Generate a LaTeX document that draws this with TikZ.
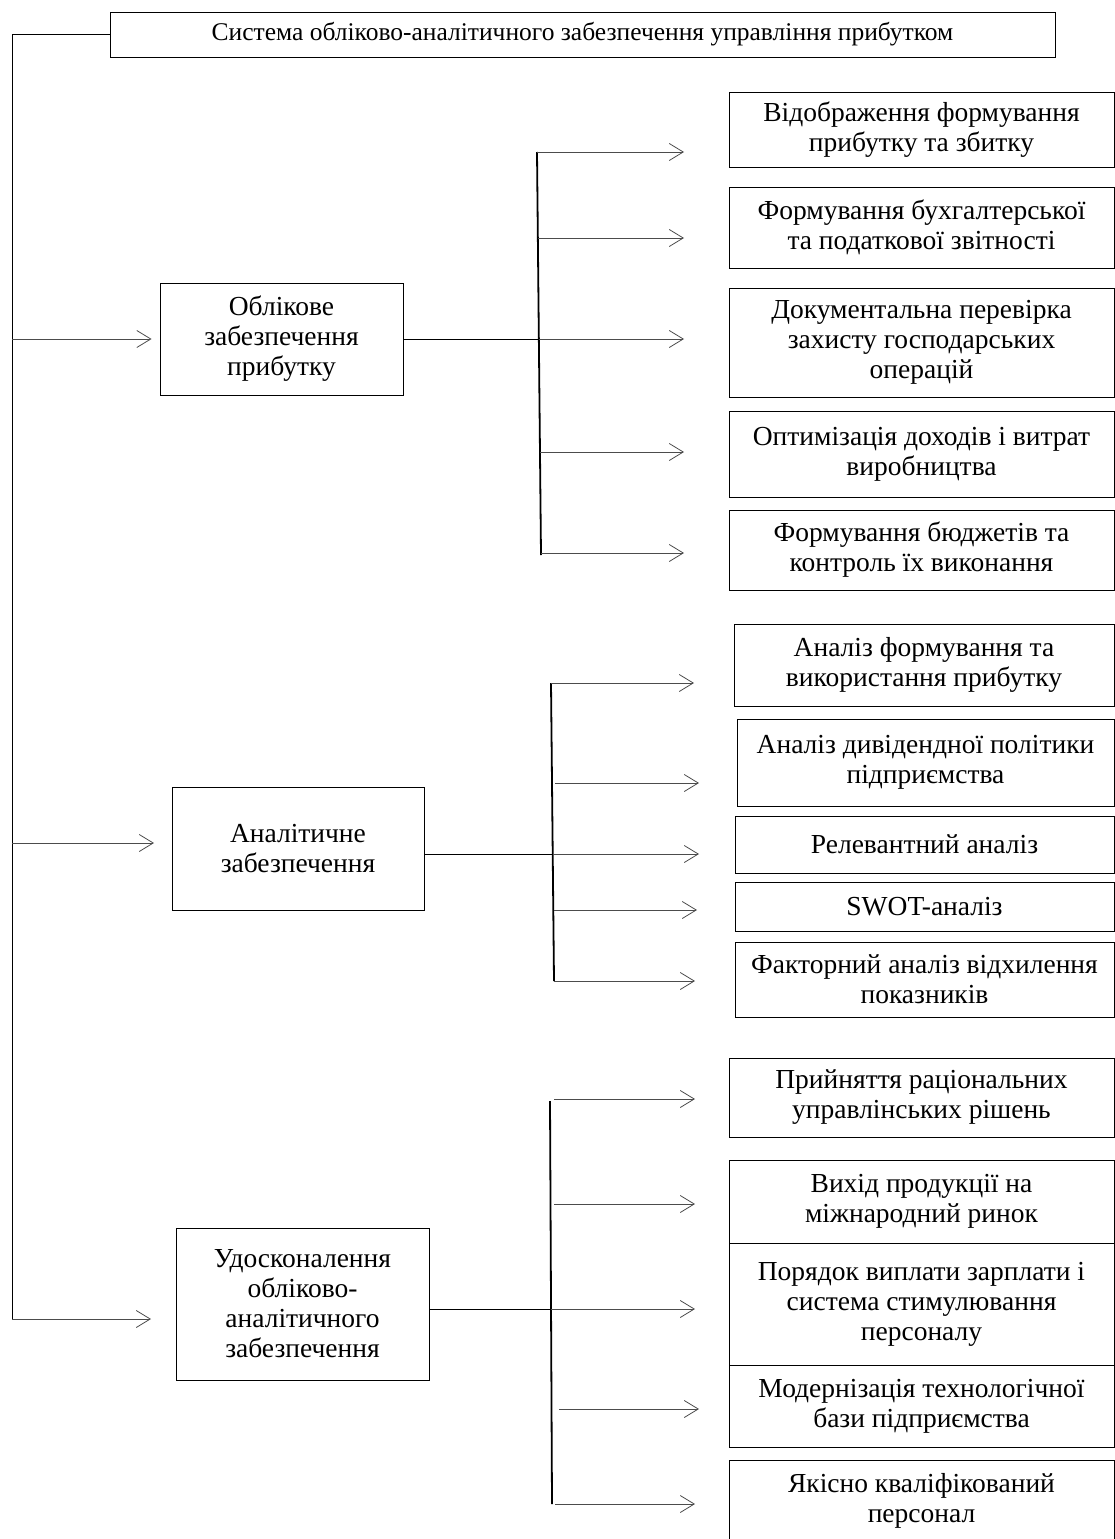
\documentclass[tikz,border=0pt]{standalone}
\usepackage{fontspec}
\setmainfont{Liberation Serif}
\usetikzlibrary{arrows.meta}
\newcommand{\boxfont}{\fontsize{27.5}{30}\selectfont}
\newcommand{\titlefont}{\fontsize{25.5}{29.5}\selectfont}
\begin{document}
\begin{tikzpicture}[x=1pt,y=-1pt,
  box/.style={draw, line width=0.9pt, align=center, inner sep=0pt, font=\boxfont},
  arr/.style={draw=black!70, line width=0.9pt, -{Straight Barb[length=14pt,width=17pt,line width=0.8pt]}},
  trunk/.style={draw=black, line width=1.8pt},
  conn/.style={draw=black, line width=1pt}]
\path[use as bounding box] (0,0) rectangle (1115,1539);

% top box
\node[box, font=\titlefont, minimum width=945pt, minimum height=45pt] (top) at (582.5,34.5) {Система обліково-аналітичного забезпечення управління прибутком};

% main boxes
\node[box, minimum width=243pt, minimum height=112pt] (b1) at (281.5,339) {Облікове\\забезпечення\\прибутку};
\node[box, minimum width=252pt, minimum height=123pt] (b2) at (298,848.5) {Аналітичне\\забезпечення};
\node[box, minimum width=253pt, minimum height=152pt] (b3) at (302.5,1304) {Удосконалення\\обліково-\\аналітичного\\забезпечення};

% right boxes, group 1
\node[box, minimum width=385pt, minimum height=75pt] (r1) at (921.5,129.5) {Відображення формування\\прибутку та збитку};
\node[box, minimum width=385pt, minimum height=81pt] (r2) at (921.5,227.5) {Формування бухгалтерської\\та податкової звітності};
\node[box, minimum width=385pt, minimum height=109pt] (r3) at (921.5,342.5) {Документальна перевірка\\захисту господарських\\операцій};
\node[box, minimum width=385pt, minimum height=86pt] (r4) at (921.5,454) {Оптимізація доходів і витрат\\виробництва};
\node[box, minimum width=385pt, minimum height=80pt] (r5) at (921.5,550) {Формування бюджетів та\\контроль їх виконання};

% group 2
\node[box, minimum width=380pt, minimum height=82pt] (r6) at (924,665) {Аналіз формування та\\використання прибутку};
\node[box, minimum width=377pt, minimum height=87pt] (r7) at (925.5,762.5) {Аналіз дивідендної політики\\підприємства};
\node[box, minimum width=379pt, minimum height=57pt] (r8) at (924.5,844.5) {Релевантний аналіз};
\node[box, minimum width=379pt, minimum height=49pt] (r9) at (924.5,906.5) {SWOT-аналіз};
\node[box, minimum width=379pt, minimum height=75pt] (r10) at (924.5,979.5) {Факторний аналіз відхилення\\показників};

% group 3
\node[box, minimum width=385pt, minimum height=79pt] (r11) at (921.5,1097.5) {Прийняття раціональних\\управлінських рішень};
\node[box, minimum width=385pt, minimum height=83pt] (r12) at (921.5,1201.5) {Вихід продукції на\\міжнародний ринок};
\node[box, minimum width=385pt, minimum height=122pt] (r13) at (921.5,1304) {Порядок виплати зарплати і\\система стимулювання\\персоналу};
\node[box, minimum width=385pt, minimum height=82pt] (r14) at (921.5,1406) {Модернізація технологічної\\бази підприємства};
\node[box, minimum width=385pt, minimum height=82pt] (r15) at (921.5,1501) {Якісно кваліфікований\\персонал};

% left trunk
\coordinate (L0) at (12,34.5);
\coordinate (Lb) at (12,1319);
\draw[conn] (top.west) -- (L0) -- (Lb);
\coordinate (L1) at (12,339);
\coordinate (L2) at (12,843);
\coordinate (E2) at (154,843);
\coordinate (E3) at (151,1319);
\draw[arr] (L1) -- ([xshift=-8pt]b1.west);
\draw[arr] (L2) -- (E2);
\draw[arr] (Lb) -- (E3);

% group 1 trunk
\coordinate (g1t) at (537,152);
\coordinate (g1b) at (541,555);
\draw[trunk] (g1t) -- (g1b);
\draw[conn] (b1.east) -- (539,339);
\coordinate (s11) at (537,152); \coordinate (t11) at (684,152);
\coordinate (s12) at (538,238); \coordinate (t12) at (684,238);
\coordinate (s13) at (539,339); \coordinate (t13) at (684,339);
\coordinate (s14) at (540,452); \coordinate (t14) at (684,452);
\coordinate (s15) at (541,553); \coordinate (t15) at (684,553);
\draw[arr] (s11) -- (t11);
\draw[arr] (s12) -- (t12);
\draw[arr] (s13) -- (t13);
\draw[arr] (s14) -- (t14);
\draw[arr] (s15) -- (t15);

% group 2 trunk
\coordinate (g2t) at (551,683);
\coordinate (g2b) at (554,981);
\draw[trunk] (g2t) -- (g2b);
\coordinate (c2) at (553,854);
\draw[conn] (b2.east |- c2) -- (c2);
\coordinate (s21) at (551,683); \coordinate (t21) at (694,683);
\coordinate (s22) at (555,783); \coordinate (t22) at (699,783);
\coordinate (s23) at (553,854); \coordinate (t23) at (699,854);
\coordinate (s24) at (554,910); \coordinate (t24) at (697,910);
\coordinate (s25) at (554,981); \coordinate (t25) at (695,981);
\draw[arr] (s21) -- (t21);
\draw[arr] (s22) -- (t22);
\draw[arr] (s23) -- (t23);
\draw[arr] (s24) -- (t24);
\draw[arr] (s25) -- (t25);

% group 3 trunk
\coordinate (g3t) at (550,1101);
\coordinate (g3b) at (552,1504);
\draw[trunk] (g3t) -- (g3b);
\coordinate (c3) at (551,1309);
\draw[conn] (b3.east |- c3) -- (c3);
\coordinate (s31) at (554,1099); \coordinate (t31) at (695,1099);
\coordinate (s32) at (554,1204); \coordinate (t32) at (695,1204);
\coordinate (s33) at (551,1309); \coordinate (t33) at (695,1309);
\coordinate (s34) at (559,1409); \coordinate (t34) at (699,1409);
\coordinate (s35) at (555,1504); \coordinate (t35) at (695,1504);
\draw[arr] (s31) -- (t31);
\draw[arr] (s32) -- (t32);
\draw[arr] (s33) -- (t33);
\draw[arr] (s34) -- (t34);
\draw[arr] (s35) -- (t35);
\end{tikzpicture}
\end{document}
